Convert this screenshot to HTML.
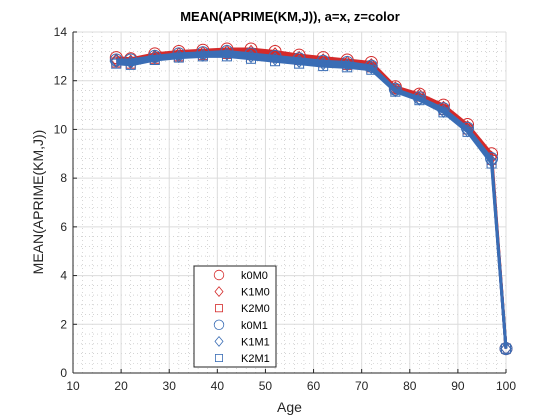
<!DOCTYPE html>
<html><head><meta charset="utf-8"><style>body{margin:0;background:#fff}svg{display:block;font-family:"Liberation Sans",Arial,sans-serif}</style></head>
<body>
<svg id="c" width="560" height="420"></svg>
<script>
const ages=[19,22,27,32,37,42,47,52,57,62,67,72,77,82,87,92,97,100];
const k0M0=[12.95,12.9,13.1,13.2,13.25,13.3,13.3,13.2,13.05,12.95,12.85,12.75,11.75,11.45,11.0,10.2,9.0,1.0];
const K1M0=[12.85,12.8,13.0,13.1,13.15,13.2,13.2,13.1,12.95,12.85,12.75,12.65,11.7,11.4,10.9,10.1,8.85,1.0];
const K2M0=[12.75,12.7,12.9,13.0,13.05,13.1,13.05,12.95,12.85,12.75,12.65,12.55,11.65,11.35,10.8,10.0,8.75,1.0];
const k0M1=[12.85,12.85,13.0,13.1,13.15,13.2,13.1,13.0,12.9,12.8,12.75,12.6,11.65,11.3,10.85,10.05,8.8,1.0];
const K1M1=[12.8,12.75,12.95,13.0,13.05,13.1,13.0,12.9,12.8,12.7,12.65,12.55,11.6,11.25,10.75,9.95,8.7,1.0];
const K2M1=[12.7,12.65,12.85,12.95,13.0,13.0,12.9,12.8,12.7,12.6,12.55,12.45,11.55,11.2,10.7,9.9,8.6,1.0];
const xTicks=[10,20,30,40,50,60,70,80,90,100];
const yTicks=[0,2,4,6,8,10,12,14];
const names=["k0M0","K1M0","K2M0","k0M1","K1M1","K2M1"];
const series=[k0M0,K1M0,K2M0,k0M1,K1M1,K2M1];
const L=73,R=506,T=32,B=373;
const X=v=>L+(v-10)/90*(R-L), Y=v=>B-v/14*(B-T);
const svg=document.getElementById('c');const NS='http://www.w3.org/2000/svg';
function el(t,a,p){const e=document.createElementNS(NS,t);for(const k in a)e.setAttribute(k,a[k]);(p||svg).appendChild(e);return e;}
const g=el('g',{});


for(let v=10;v<=100;v+=2){if(v%10)el('line',{x1:X(v),x2:X(v),y1:T,y2:B,stroke:'#bbb','stroke-width':0.6,'stroke-dasharray':'1 3'},g);}
for(let v=0;v<=14;v+=0.4){if(Math.abs(v/2-Math.round(v/2))>0.01)el('line',{x1:L,x2:R,y1:Y(v),y2:Y(v),stroke:'#bbb','stroke-width':0.6,'stroke-dasharray':'1 3'},g);}
xTicks.forEach(v=>{el('line',{x1:X(v),x2:X(v),y1:T,y2:B,stroke:'#dcdcdc','stroke-width':1},g);});
yTicks.forEach(v=>{el('line',{x1:L,x2:R,y1:Y(v),y2:Y(v),stroke:'#dcdcdc','stroke-width':1},g);});
const cols=['#d42a2a','#d42a2a','#d42a2a','#3a6db5','#3a6db5','#3a6db5'];
const mk=['o','d','s','o','d','s'];
function marker(t,x,y,c,p){if(t=='o')return el('circle',{cx:x,cy:y,r:6,fill:'none',stroke:c,'stroke-width':1},p);
if(t=='d')return el('polygon',{points:`${x},${y-6} ${x+5},${y} ${x},${y+6} ${x-5},${y}`,fill:'none',stroke:c,'stroke-width':1},p);
return el('rect',{x:x-4.5,y:y-4.5,width:9,height:9,fill:'none',stroke:c,'stroke-width':1},p);}
series.forEach((s,i)=>{const sg=el('g',{});


el('polyline',{points:s.map((v,j)=>X(ages[j])+','+Y(v)).join(' '),fill:'none',stroke:cols[i],'stroke-width':3,'stroke-linejoin':'round'},sg);
s.forEach((v,j)=>{const m=marker(mk[i],X(ages[j]),Y(v),cols[i],sg);

});});
el('line',{x1:L,x2:L,y1:T,y2:B,stroke:'#262626','stroke-width':1});
el('line',{x1:L,x2:R,y1:B,y2:B,stroke:'#262626','stroke-width':1});
xTicks.forEach(v=>{el('line',{x1:X(v),x2:X(v),y1:B,y2:B-4,stroke:'#262626'});const t=el('text',{x:X(v),y:B+17,'text-anchor':'middle','font-size':12,fill:'#262626'});t.textContent=v;

});
yTicks.forEach(v=>{el('line',{x1:L,x2:L+4,y1:Y(v),y2:Y(v),stroke:'#262626'});const t=el('text',{x:L-6,y:Y(v)+4,'text-anchor':'end','font-size':12,fill:'#262626'});t.textContent=v;

});
const lg=el('g',{});


el('rect',{x:194,y:266,width:82,height:101,fill:'#fff',stroke:'#262626','stroke-width':1},lg);
names.forEach((n,i)=>{const y=275+i*16.6;marker(mk[i],219,y,cols[i],lg).setAttribute('transform',`translate(${219*(1-0.8)},${y*(1-0.8)}) scale(0.8)`);
const t=el('text',{x:241,y:y+4,'font-size':11,fill:'#000'},lg);t.textContent=n;

});
</script>
<div style="position:absolute;left:0;top:0;width:560px;height:420px;pointer-events:none">
<div style="position:absolute;left:0;width:580px;top:9px;text-align:center;font:bold 13px 'Liberation Sans',sans-serif;color:#000">MEAN(APRIME(KM,J)), a=x, z=color</div>
<div style="position:absolute;left:73px;width:433px;top:399px;text-align:center;font:14px 'Liberation Sans',sans-serif;color:#262626">Age</div>
<div style="position:absolute;left:-77px;top:194px;width:230px;text-align:center;transform:rotate(-90deg);font:14px 'Liberation Sans',sans-serif;color:#262626">MEAN(APRIME(KM,J))</div>
</div>
</body></html>
